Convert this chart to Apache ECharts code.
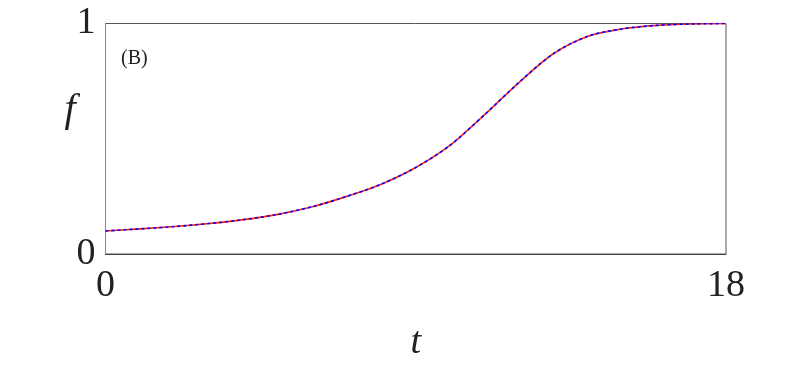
<!DOCTYPE html>
<html>
<head>
<meta charset="utf-8">
<script src="https://cdn.jsdelivr.net/npm/echarts@6/dist/echarts.min.js"></script>
<style>html,body{margin:0;padding:0;background:#fff}#c{width:804px;height:372px}</style>
</head>
<body>
<div id="c"></div>
<script>
const tValues = [0,1,2,3,4,5,6,7,8,9,10,11,12,13,14,15,16,17,18];
const fRed =  [0.100,0.109,0.119,0.132,0.149,0.172,0.205,0.250,0.303,0.375,0.472,0.605,0.745,0.870,0.945,0.977,0.992,0.998,1.000];
const fBlue = [0.100,0.109,0.119,0.132,0.149,0.172,0.205,0.250,0.303,0.375,0.472,0.605,0.745,0.870,0.945,0.977,0.992,0.998,1.000];
const xTicks = [0, 18];
const yTicks = [0, 1];
const panelLabel = '(B)';

const chart = echarts.init(document.getElementById('c'));
const serif = '"Liberation Serif", "DejaVu Serif", serif';
chart.setOption({
  animation: false,
  grid: {left: 105.5, right: 78, top: 23.5, bottom: 118, show: true, borderColor: '#555', borderWidth: 1},
  xAxis: {
    type: 'value', min: 0, max: 18, interval: 18,
    axisLine: {show: true, lineStyle: {color: '#444'}},
    axisTick: {show: false}, splitLine: {show: false},
    axisLabel: {fontFamily: serif, fontSize: 38, color: '#222', margin: 13,
      formatter: v => xTicks.includes(v) ? String(v) : ''},
    name: 't', nameLocation: 'middle', nameGap: 70,
    nameTextStyle: {fontFamily: serif, fontStyle: 'italic', fontSize: 38, color: '#222'}
  },
  yAxis: {
    type: 'value', min: 0, max: 1, interval: 1,
    axisLine: {show: true, lineStyle: {color: '#888'}},
    axisTick: {show: false}, splitLine: {show: false},
    axisLabel: {fontFamily: serif, fontSize: 38, color: '#222', margin: 10,
      formatter: v => yTicks.includes(v) ? String(v) : ''}
  },
  graphic: [
    {type: 'text', left: 121, top: 49, style: {text: panelLabel, fontFamily: serif, fontSize: 20, fill: '#222'}},
    {type: 'text', x: 70, y: 110, style: {text: 'f', fontFamily: serif, fontStyle: 'italic', fontSize: 40, fill: '#222', align: 'center', verticalAlign: 'middle'}}
  ],
  series: [
    {type: 'line', data: tValues.map((t,i)=>[t,fRed[i]]), smooth: 0.3, showSymbol: false,
      lineStyle: {color: '#ff2020', width: 1.6, type: 'solid'}},
    {type: 'line', data: tValues.map((t,i)=>[t,fBlue[i]]), smooth: 0.3, showSymbol: false,
      lineStyle: {color: '#0000ff', width: 1.6, type: [3,3]}}
  ]
});
</script>
</body>
</html>
